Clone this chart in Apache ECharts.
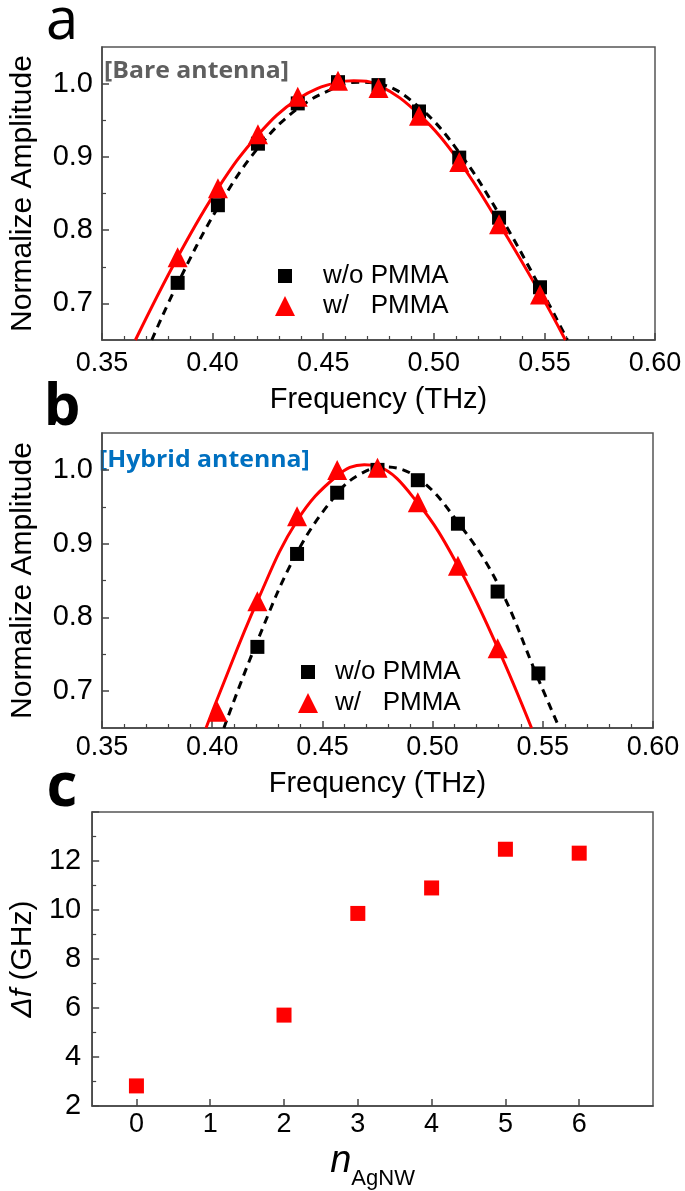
<!DOCTYPE html>
<html>
<head>
<meta charset="utf-8">
<script src="https://cdn.jsdelivr.net/npm/echarts@6/dist/echarts.min.js"></script>
<style>
  html, body { margin: 0; padding: 0; background: #fff; }
  #main { width: 685px; height: 1191px; }
</style>
</head>
<body>
<div id="main"></div>
<script>
// ---- data ----
// panel a: bare antenna
const freqBare = [0.3842, 0.4024, 0.4205, 0.4385, 0.4567, 0.4750, 0.4933, 0.5115, 0.5295, 0.5480];
const bareNoPmma = [0.728, 0.834, 0.918, 0.973, 1.002, 0.998, 0.962, 0.899, 0.817, 0.722];
const bareWithPmma = [0.763, 0.857, 0.931, 0.982, 1.004, 0.994, 0.956, 0.893, 0.808, 0.712];
// fitted curves (a)
const fitFreqBareRed = [0.3651, 0.3842, 0.4024, 0.4205, 0.4385, 0.4567, 0.4638, 0.4750, 0.4933, 0.5115, 0.5295, 0.5480, 0.5595];
const fitBareRed = [0.650, 0.763, 0.857, 0.930, 0.979, 1.002, 1.004, 0.998, 0.958, 0.894, 0.809, 0.714, 0.650];
const fitFreqBareBlack = [0.3725, 0.3842, 0.4024, 0.4205, 0.4385, 0.4567, 0.4660, 0.4750, 0.4933, 0.5115, 0.5295, 0.5480, 0.5604];
const fitBareBlack = [0.650, 0.727, 0.831, 0.912, 0.966, 0.996, 1.002, 1.000, 0.968, 0.906, 0.822, 0.722, 0.650];

// panel b: hybrid antenna
const freqHybrid = [0.4024, 0.4205, 0.4385, 0.4567, 0.4750, 0.4933, 0.5115, 0.5295, 0.5480];
const hybridNoPmma = [null, 0.760, 0.886, 0.969, 1.000, 0.986, 0.927, 0.835, 0.724];
const hybridWithPmma = [0.672, 0.822, 0.937, 1.000, 1.003, 0.956, 0.870, 0.758, 0.645];
// fitted curves (b)
const fitFreqHybRed = [0.3972, 0.4024, 0.4205, 0.4385, 0.4567, 0.4690, 0.4750, 0.4933, 0.5115, 0.5295, 0.5449];
const fitHybRed = [0.650, 0.690, 0.822, 0.931, 0.992, 1.007, 1.005, 0.955, 0.870, 0.759, 0.650];
const fitFreqHybBlack = [0.4053, 0.4205, 0.4385, 0.4567, 0.4670, 0.4779, 0.4933, 0.5115, 0.5295, 0.5480, 0.5575];
const fitHybBlack = [0.650, 0.768, 0.888, 0.968, 0.994, 1.004, 0.989, 0.929, 0.846, 0.716, 0.650];

// panel c: frequency shift vs number of AgNW
const nAgNW = [0, 2, 3, 4, 5, 6];
const deltaF = [2.82, 5.71, 9.86, 10.9, 12.48, 12.32];

// tick labels
const ampTicks = [0.7, 0.8, 0.9, 1.0];
const ampMinorTicks = [0.75, 0.85, 0.95];
const nTicks = [0, 1, 2, 3, 4, 5, 6];

const FONT = '"Liberation Sans", Arial, sans-serif';
const AXIS = '#444';

function pairs(xs, ys) {
  return xs.map((x, i) => [x, ys[i] == null ? '-' : ys[i]]);
}

const baseLine = { show: true, onZero: false, lineStyle: { color: AXIS, width: 1.5 } };
const xLabelStyle = { fontFamily: FONT, fontSize: 27, color: '#000' };
const yLabelStyle = { fontFamily: FONT, fontSize: 29, color: '#000' };

function freqAxis(gi, margin, gap) {
  return {
    type: 'value', gridIndex: gi, min: 0.35, max: 0.6, interval: 0.05,
    name: 'Frequency (THz)', nameLocation: 'middle', nameGap: gap,
    nameTextStyle: { fontFamily: FONT, fontSize: 29, color: '#000' },
    axisLine: baseLine,
    axisTick: { show: true, inside: true, length: 7, lineStyle: { color: AXIS, width: 1.5 } },
    minorTick: { show: true, splitNumber: 5, length: 4, lineStyle: { color: AXIS, width: 1.2 } },
    axisLabel: Object.assign({ margin: margin, formatter: v => v.toFixed(2) }, xLabelStyle),
    splitLine: { show: false }
  };
}

function ampAxis(gi) {
  return {
    type: 'value', gridIndex: gi, min: 0.65, max: 1.05, position: 'left',
    name: 'Normalize Amplitude', nameLocation: 'middle', nameGap: 64,
    nameTextStyle: { fontFamily: FONT, fontSize: 30, color: '#000' },
    axisLine: baseLine,
    axisTick: { show: true, inside: true, length: 7, customValues: ampTicks, lineStyle: { color: AXIS, width: 1.5 } },
    axisLabel: Object.assign({ margin: 9, customValues: ampTicks, formatter: v => v.toFixed(1) }, yLabelStyle),
    splitLine: { show: false }
  };
}

// second axis only for the short in-between ticks
function ampMinorAxis(gi) {
  return {
    type: 'value', gridIndex: gi, min: 0.65, max: 1.05, position: 'left',
    axisLine: { show: false },
    axisTick: { show: true, inside: true, length: 4, customValues: ampMinorTicks, lineStyle: { color: AXIS, width: 1.2 } },
    axisLabel: { show: false },
    splitLine: { show: false }
  };
}

function fitLine(xi, yi, xs, ys, color, dashed) {
  return {
    type: 'line', xAxisIndex: xi, yAxisIndex: yi, data: pairs(xs, ys),
    smooth: 0.4, symbol: 'none', silent: true, z: dashed ? 2 : 3,
    lineStyle: { color: color, width: 3, type: dashed ? [8, 6] : 'solid' }
  };
}

function dots(xi, yi, name, xs, ys, symbol, size, color, z) {
  return {
    type: 'scatter', name: name, xAxisIndex: xi, yAxisIndex: yi, data: pairs(xs, ys),
    symbol: symbol, symbolSize: size, itemStyle: { color: color, opacity: 1 }, z: z
  };
}

function legendItem(name, left, top, size, pad) {
  return {
    data: [name], left: left, top: top, padding: 0, itemWidth: size, itemHeight: size,
    selectedMode: false,
    textStyle: { fontFamily: FONT, fontSize: 26, color: '#000', padding: [0, 0, 0, pad] }
  };
}

function panelText(text, x, y, size, bold, color, sx) {
  return {
    type: 'text', x: x, y: y, scaleX: sx || 1,
    style: { text: text, fontFamily: '"Open Sans"', fontWeight: bold ? 'bold' : 'normal', fontSize: size, fill: color, align: sx ? 'left' : 'center', verticalAlign: 'middle' }
  };
}

const gridStyle = { show: true, borderColor: '#555', borderWidth: 1.5, backgroundColor: 'transparent', containLabel: false };

const chart = echarts.init(document.getElementById('main'));
chart.setOption({
  animation: false,
  backgroundColor: '#fff',
  grid: [
    Object.assign({ left: 89, top: 47, width: 566, height: 293 }, gridStyle),
    Object.assign({ left: 87, top: 433, width: 566, height: 295 }, gridStyle),
    Object.assign({ left: 86, top: 812, width: 567, height: 295 }, gridStyle)
  ],
  xAxis: [
    freqAxis(0, 10, 45),
    freqAxis(1, 6, 41),
    {
      type: 'value', gridIndex: 2, min: -0.6, max: 7,
      name: '{n|n}{s|AgNW}', nameLocation: 'middle', nameGap: 36,
      nameTextStyle: {
        rich: {
          n: { fontFamily: FONT, fontStyle: 'italic', fontSize: 38, color: '#000', verticalAlign: 'bottom', padding: [0, 0, 10, 0] },
          s: { fontFamily: FONT, fontSize: 22, color: '#000', verticalAlign: 'bottom' }
        }
      },
      axisLine: baseLine,
      axisTick: { show: true, inside: true, length: 7, customValues: nTicks, lineStyle: { color: AXIS, width: 1.5 } },
      axisLabel: Object.assign({ margin: 5, customValues: nTicks, formatter: v => String(v) }, xLabelStyle),
      splitLine: { show: false }
    }
  ],
  yAxis: [
    ampAxis(0), ampMinorAxis(0),
    ampAxis(1), ampMinorAxis(1),
    {
      type: 'value', gridIndex: 2, min: 2, max: 14, interval: 2,
      name: '{g|Δ}{g|f}{r| (GHz)}', nameLocation: 'middle', nameGap: 31,
      nameTextStyle: {
        rich: {
          g: { fontFamily: FONT, fontStyle: 'italic', fontSize: 30, color: '#000' },
          r: { fontFamily: FONT, fontSize: 30, color: '#000' }
        }
      },
      axisLine: baseLine,
      axisTick: { show: true, inside: true, length: 7, lineStyle: { color: AXIS, width: 1.5 } },
      minorTick: { show: true, splitNumber: 2, length: 4, lineStyle: { color: AXIS, width: 1.2 } },
      axisLabel: Object.assign({ margin: 11, showMaxLabel: false }, yLabelStyle),
      splitLine: { show: false }
    }
  ],
  legend: [
    legendItem('w/o PMMA', 278, 263, 14, 26),
    legendItem('w/   PMMA', 275, 293, 20, 23),
    legendItem('w/o PMMA', 301, 659, 14, 15),
    legendItem('w/   PMMA', 298, 690, 20, 12)
  ],
  graphic: [
    panelText('a', 62, 22, 58, false, '#000'),
    panelText('b', 62, 408, 58, true, '#000'),
    panelText('c', 62, 789, 60, true, '#000'),
    panelText('[Bare antenna]', 104, 71, 23, true, '#5f5f5f', 1.08),
    panelText('[Hybrid antenna]', 99, 460, 23, true, '#0070c0', 1.08)
  ],
  series: [
    // panel a
    fitLine(0, 0, fitFreqBareBlack, fitBareBlack, '#000', true),
    fitLine(0, 0, fitFreqBareRed, fitBareRed, '#ff0000', false),
    dots(0, 0, 'w/o PMMA', freqBare, bareNoPmma, 'rect', 14, '#000', 4),
    dots(0, 0, 'w/   PMMA', freqBare, bareWithPmma, 'triangle', 20, '#ff0000', 5),
    // panel b
    fitLine(1, 2, fitFreqHybBlack, fitHybBlack, '#000', true),
    fitLine(1, 2, fitFreqHybRed, fitHybRed, '#ff0000', false),
    dots(1, 2, 'w/o PMMA', freqHybrid, hybridNoPmma, 'rect', 14, '#000', 4),
    dots(1, 2, 'w/   PMMA', freqHybrid, hybridWithPmma, 'triangle', 20, '#ff0000', 5),
    // panel c
    {
      type: 'scatter', xAxisIndex: 2, yAxisIndex: 4, data: pairs(nAgNW, deltaF),
      symbol: 'rect', symbolSize: 15, itemStyle: { color: '#ff0000', opacity: 1 }
    }
  ]
});
</script>
</body>
</html>
